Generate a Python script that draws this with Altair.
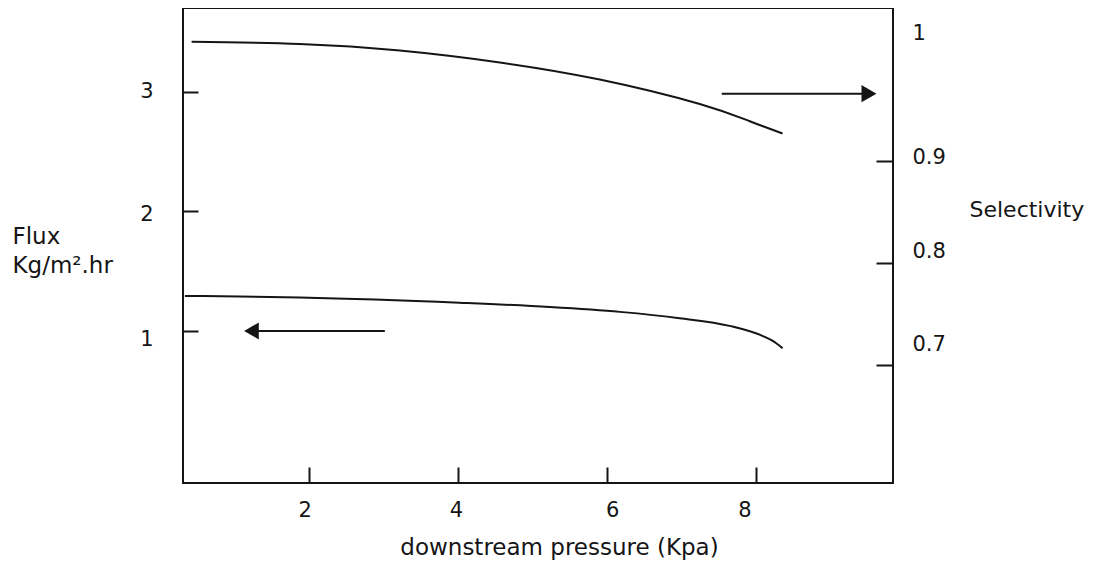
import altair as alt
import pandas as pd

# ---- data ----
pressure_flux = [0.34, 1.88, 4.02, 5.23, 6.17, 6.97, 7.64, 8.08, 8.24, 8.31, 8.35]
flux = [1.292, 1.280, 1.236, 1.200, 1.159, 1.106, 1.042, 0.958, 0.908, 0.875, 0.855]

pressure_sel = [0.43, 1.88, 3.22, 4.56, 5.90, 7.24, 7.91, 8.35]
selectivity = [1.017, 1.0147, 1.0083, 0.9966, 0.9799, 0.9559, 0.939, 0.927]

x_ticks = [2, 4, 6, 8]
flux_ticks = [1, 2, 3]
sel_ticks = [0.7, 0.8, 0.9, 1.0]

# arrows (tail x, head x, y) in data units
flux_arrow = [3.02, 1.232, 1.0]
sel_arrow = [7.535, 9.508, 0.966]

INK = "#151515"
FONT = "DejaVu Sans"

flux_df = pd.DataFrame({"p": pressure_flux, "v": flux})
sel_df = pd.DataFrame({"p": pressure_sel, "v": selectivity})
flux_arrow_df = pd.DataFrame({"p": [flux_arrow[0]], "p2": [flux_arrow[1]], "v": [flux_arrow[2]]})
sel_arrow_df = pd.DataFrame({"p": [sel_arrow[0]], "p2": [sel_arrow[1]], "v": [sel_arrow[2]]})

x_scale = alt.Scale(domain=[0.315, 9.83], nice=False, zero=False)
flux_scale = alt.Scale(domain=[-0.272, 3.70], nice=False, zero=False)
sel_scale = alt.Scale(domain=[0.5843, 1.05], nice=False, zero=False)

x_axis = alt.Axis(
    values=x_ticks, title="downstream pressure (Kpa)", offset=-16, tickSize=16,
    labelPadding=16, domain=False, grid=False, tickWidth=2, tickColor=INK,
    titleX=376, titleY=87, titleAlign="center", titleBaseline="alphabetic",
    labelOffset={"expr": "datum.value == 8 ? -12 : datum.value == 6 ? 5 : datum.value == 4 ? -2 : -4"},
)
flux_axis = alt.Axis(
    values=flux_ticks, title=["Flux", "Kg/m\u00b2.hr"], orient="left", offset=-15, tickSize=15,
    labelPadding=30, domain=False, grid=False, tickWidth=2, tickColor=INK,
    titleAngle=0, titleAlign="left", titleBaseline="alphabetic", titleX=-186, titleY=235,
    titleLineHeight=29,
    labelOffset={"expr": "datum.value == 1 ? 9 : datum.value == 2 ? 3 : 0"},
)
sel_axis = alt.Axis(
    values=sel_ticks, title="Selectivity", orient="right", offset=-17, tickSize=17,
    labelPadding=19, domain=False, grid=False, tickWidth=2, tickColor=INK,
    titleAngle=0, titleAlign="left", titleBaseline="alphabetic", titleX=93, titleY=208,
    titleFontSize=22,
    format="~g",
    tickOpacity={"expr": "datum.value > 0.95 ? 0 : 1"},
    labelOffset={"expr": "datum.value > 0.95 ? -25 : datum.value > 0.85 ? -3 : datum.value > 0.75 ? -11 : -20"},
)

X = alt.X("p:Q", scale=x_scale, axis=x_axis)

flux_line = alt.Chart(flux_df).mark_line(color=INK, strokeWidth=2, interpolate="monotone").encode(
    x=X, y=alt.Y("v:Q", scale=flux_scale, axis=flux_axis)
)
flux_rule = alt.Chart(flux_arrow_df).mark_rule(color=INK, strokeWidth=2).encode(
    x=X, x2="p2:Q", y=alt.Y("v:Q", scale=flux_scale, axis=flux_axis)
)
flux_head = alt.Chart(flux_arrow_df).mark_point(
    shape="triangle-left", filled=True, size=289, color=INK, opacity=1
).encode(x=alt.X("p2:Q", scale=x_scale, axis=x_axis), y=alt.Y("v:Q", scale=flux_scale, axis=flux_axis))

sel_line = alt.Chart(sel_df).mark_line(color=INK, strokeWidth=2, interpolate="natural").encode(
    x=X, y=alt.Y("v:Q", scale=sel_scale, axis=sel_axis)
)
sel_rule = alt.Chart(sel_arrow_df).mark_rule(color=INK, strokeWidth=2).encode(
    x=X, x2="p2:Q", y=alt.Y("v:Q", scale=sel_scale, axis=sel_axis)
)
sel_head = alt.Chart(sel_arrow_df).mark_point(
    shape="triangle-right", filled=True, size=300, color=INK, opacity=1
).encode(x=alt.X("p2:Q", scale=x_scale, axis=x_axis), y=alt.Y("v:Q", scale=sel_scale, axis=sel_axis))

flux_layer = alt.layer(flux_line, flux_rule, flux_head)
sel_layer = alt.layer(sel_line, sel_rule, sel_head)

chart = (
    alt.layer(flux_layer, sel_layer)
    .resolve_scale(y="independent")
    .properties(
        width=710, height=475,
        padding={"left": 175, "top": 0, "right": 192, "bottom": 77},
        autosize=alt.AutoSizeParams(type="none"),
        background="white",
    )
    .configure_view(stroke=INK, strokeWidth=2)
    .configure_axis(
        labelFont=FONT, titleFont=FONT, labelFontSize=21, titleFontSize=23,
        labelColor=INK, titleColor=INK, titleFontWeight="normal",
    )
)

chart.save("out.html", embed_options={"renderer": "svg", "actions": False})
